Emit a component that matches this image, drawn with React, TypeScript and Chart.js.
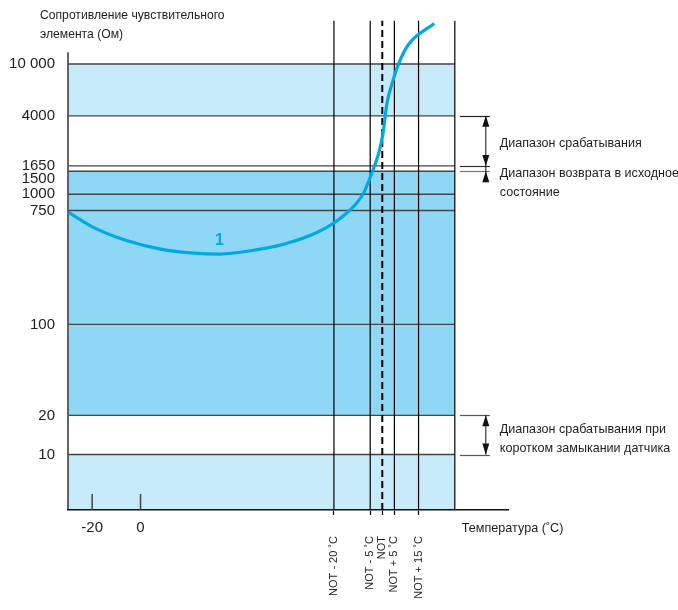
import React, { useEffect, useRef } from 'react';
import { Chart, registerables } from 'chart.js';

Chart.register(...registerables);

// ---- axis ranges ----
const X_MIN = -30;
const X_MAX = 152;
const BAND_RIGHT = 130;
const Y_MIN = 3.75;
const Y_MAX = 21600;
const Y_AXIS_TOP = 12300;

// ---- ticks ----
const Y_TICKS = [10, 20, 100, 750, 1000, 1500, 1650, 4000, 10000];
const X_NUM_TICKS = [-20, 0];
const NOT = 100;
const NOT_OFFSETS = [-20, -5, 0, 5, 15];
const NOT_LABELS = ['NOT - 20 ˚C', 'NOT - 5 ˚C', 'NOT', 'NOT + 5 ˚C', 'NOT + 15 ˚C'];
const NOT_TICKS = NOT_OFFSETS.map((o) => NOT + o);

// ---- curve 1 (temperature °C, resistance Ω) ----
const CURVE_T = [-29.6, -19.3, -5.5, 8.3, 22, 33.1, 45.5, 59.2, 73, 80.6, 85.4, 89.5, 92.3, 95.7, 98.5, 100.3, 101, 101.9, 104, 106.7, 110.9, 121.5];
const CURVE_R = [721, 554, 439, 379, 353, 347, 368, 413, 508, 612, 721, 859, 1023, 1454, 2064, 2930, 3700, 4960, 7040, 10000, 14200, 20500];
const CURVE_LABEL = '1';
const CURVE_LABEL_T = 32.6;
const CURVE_LABEL_R = 441;

// ---- bands ----
const LIGHT_BANDS = [[4000, 10000], [Y_MIN, 10]];
const MID_BANDS = [[20, 1500]];

// ---- texts ----
const TITLE_LINES = ['Сопротивление чувствительного', 'элемента (Ом)'];
const X_TITLE = 'Температура (˚C)';
const RANGE_TRIP = { top: 4000, bottom: 1650, lines: ['Диапазон срабатывания'] };
const RANGE_RESET = { top: 1650, bottom: 1500, lines: ['Диапазон возврата в исходное', 'состояние'] };
const RANGE_SHORT = { top: 20, bottom: 10, lines: ['Диапазон срабатывания при', 'коротком замыкании датчика'] };

const FONT = '"Liberation Sans", Arial, sans-serif';
const LIGHT = '#c7eaf9';
const MID = '#8ed8f6';
const BLUE = '#00a8e4';
const GRID = '#444444';
const TEXT = '#1e1e1e';

export default function App() {
  const ref = useRef<HTMLCanvasElement>(null);

  useEffect(() => {
    const canvas = ref.current;
    if (!canvas) return;

    const hline = (v: number) => [{ x: X_MIN, y: v }, { x: BAND_RIGHT, y: v }];
    const vline = (t: number, top: number = Y_MAX) => [{ x: t, y: Y_MIN }, { x: t, y: top }];

    const datasets: any[] = [];
    LIGHT_BANDS.forEach(([lo, hi]) => {
      datasets.push({ data: hline(hi), borderWidth: 0, pointRadius: 0, backgroundColor: LIGHT, fill: { value: lo }, order: 20 });
    });
    MID_BANDS.forEach(([lo, hi]) => {
      datasets.push({ data: hline(hi), borderWidth: 0, pointRadius: 0, backgroundColor: MID, fill: { value: lo }, order: 20 });
    });
    Y_TICKS.forEach((v) => {
      datasets.push({ data: hline(v), borderColor: GRID, borderWidth: 1.4, pointRadius: 0, fill: false, order: 10 });
    });
    NOT_TICKS.forEach((t, i) => {
      const dashed = NOT_OFFSETS[i] === 0;
      datasets.push({
        data: vline(t),
        borderColor: '#000',
        borderWidth: dashed ? 2 : 1.2,
        borderDash: dashed ? [7, 4] : [],
        pointRadius: 0,
        fill: false,
        order: 5,
      });
    });
    datasets.push({ data: vline(BAND_RIGHT), borderColor: '#000', borderWidth: 1.2, pointRadius: 0, fill: false, order: 5 });
    datasets.push({ data: vline(X_MIN, Y_AXIS_TOP), borderColor: '#555', borderWidth: 1.8, pointRadius: 0, fill: false, clip: false, order: 5 });
    datasets.push({
      data: CURVE_T.map((t, i) => ({ x: t, y: CURVE_R[i] })),
      borderColor: BLUE,
      borderWidth: 3.2,
      pointRadius: 0,
      fill: false,
      cubicInterpolationMode: 'monotone',
      order: 0,
    });

    const annot = {
      id: 'annot',
      afterDraw(chart: any) {
        const { ctx, chartArea } = chart;
        const x = chart.scales.x;
        const y = chart.scales.y;
        ctx.save();

        const text = (s: string, px: number, py: number, sx: number) => {
          ctx.save();
          ctx.translate(px, py);
          ctx.scale(sx, 1);
          ctx.fillText(s, 0, 0);
          ctx.restore();
        };

        // title
        ctx.fillStyle = TEXT;
        ctx.font = `13px ${FONT}`;
        ctx.textAlign = 'left';
        ctx.textBaseline = 'middle';
        TITLE_LINES.forEach((l, i) => text(l, 40, 15 + i * 19, 0.935));

        // x title
        const xr = x.getPixelForValue(BAND_RIGHT);
        text(X_TITLE, xr + 7, chartArea.bottom + 18, 0.97);

        // inner tick marks
        ctx.strokeStyle = '#444';
        ctx.lineWidth = 1.5;
        X_NUM_TICKS.forEach((t) => {
          const px = x.getPixelForValue(t);
          ctx.beginPath();
          ctx.moveTo(px, chartArea.bottom - 16);
          ctx.lineTo(px, chartArea.bottom);
          ctx.stroke();
        });

        // curve label
        ctx.fillStyle = BLUE;
        ctx.font = `bold 16px ${FONT}`;
        ctx.textAlign = 'center';
        ctx.fillText(CURVE_LABEL, x.getPixelForValue(CURVE_LABEL_T), y.getPixelForValue(CURVE_LABEL_R));

        // bracket annotations
        const x0 = xr + 5;
        const x1 = xr + 35;
        const xa = xr + 31;
        const arrow = (tipY: number, dir: number) => {
          ctx.beginPath();
          ctx.moveTo(xa, tipY);
          ctx.lineTo(xa - 3.5, tipY - dir * 11);
          ctx.lineTo(xa + 3.5, tipY - dir * 11);
          ctx.closePath();
          ctx.fill();
        };
        const hseg = (v: number, color: string) => {
          ctx.strokeStyle = color;
          ctx.lineWidth = 1.2;
          const py = Math.round(y.getPixelForValue(v)) + 0.5;
          ctx.beginPath();
          ctx.moveTo(x0, py);
          ctx.lineTo(x1, py);
          ctx.stroke();
        };
        const vseg = (a: number, b: number) => {
          ctx.strokeStyle = '#111';
          ctx.lineWidth = 1;
          ctx.beginPath();
          ctx.moveTo(xa, a);
          ctx.lineTo(xa, b);
          ctx.stroke();
        };
        hseg(RANGE_TRIP.top, '#222');
        hseg(RANGE_TRIP.bottom, '#333');
        hseg(RANGE_RESET.bottom, '#777');
        hseg(RANGE_SHORT.top, '#555');
        hseg(RANGE_SHORT.bottom, '#555');

        const yTripTop = y.getPixelForValue(RANGE_TRIP.top);
        const yTripBot = y.getPixelForValue(RANGE_TRIP.bottom);
        const yResBot = y.getPixelForValue(RANGE_RESET.bottom);
        const yShTop = y.getPixelForValue(RANGE_SHORT.top);
        const yShBot = y.getPixelForValue(RANGE_SHORT.bottom);
        ctx.fillStyle = '#111';
        vseg(yTripTop, yResBot + 11);
        arrow(yTripTop, -1);
        arrow(yTripBot, 1);
        arrow(yResBot, -1);
        vseg(yShTop, yShBot);
        arrow(yShTop, -1);
        arrow(yShBot, 1);

        ctx.fillStyle = TEXT;
        ctx.font = `13px ${FONT}`;
        ctx.textAlign = 'left';
        ctx.textBaseline = 'middle';
        const tx = xr + 45;
        text(RANGE_TRIP.lines[0], tx, (yTripTop + yTripBot) / 2 + 3, 0.965);
        RANGE_RESET.lines.forEach((l, i) => text(l, tx, yResBot + 2 + i * 19, 0.965));
        const mid = (yShTop + yShBot) / 2;
        RANGE_SHORT.lines.forEach((l, i) => text(l, tx, mid - 6 + i * 19, 0.965));

        ctx.restore();
      },
    };

    const chart = new Chart(canvas, {
      type: 'line',
      data: { datasets },
      options: {
        animation: false,
        responsive: false,
        layout: { padding: { top: 16, right: 170, left: 0, bottom: 0 } },
        plugins: {
          legend: { display: false },
          tooltip: { enabled: false },
          filler: { drawTime: 'beforeDatasetsDraw' },
        },
        scales: {
          x: {
            type: 'linear',
            position: 'bottom',
            min: X_MIN,
            max: X_MAX,
            weight: 0,
            afterBuildTicks: (s: any) => {
              s.ticks = [...X_NUM_TICKS, ...NOT_TICKS].map((v) => ({ value: v }));
            },
            afterFit: (s: any) => {
              s.height = 26;
            },
            ticks: {
              autoSkip: false,
              minRotation: 0,
              maxRotation: 0,
              padding: 4,
              color: TEXT,
              font: { family: FONT, size: 15 },
              callback: (v: any) => (X_NUM_TICKS.includes(v) ? String(v) : ''),
            },
            grid: {
              z: 1,
              drawOnChartArea: false,
              drawTicks: true,
              tickLength: 5,
              tickWidth: 1.2,
              tickColor: (c: any) => (c.tick && X_NUM_TICKS.includes(c.tick.value) ? 'rgba(0,0,0,0)' : '#000'),
            },
            border: { display: true, color: '#111', width: 1.5, z: 1 },
          },
          x2: {
            type: 'linear',
            position: 'bottom',
            min: X_MIN,
            max: X_MAX,
            weight: 1,
            afterBuildTicks: (s: any) => {
              s.ticks = NOT_TICKS.map((v) => ({ value: v }));
            },
            afterFit: (s: any) => {
              s.height = 74;
            },
            ticks: {
              autoSkip: false,
              minRotation: 90,
              maxRotation: 90,
              padding: 0,
              color: TEXT,
              font: { family: FONT, size: 11 },
              callback: (v: any) => NOT_LABELS[NOT_TICKS.indexOf(v)] ?? '',
            },
            grid: { display: false, drawTicks: false },
            border: { display: false },
          },
          y: {
            type: 'logarithmic',
            position: 'left',
            min: Y_MIN,
            max: Y_MAX,
            afterBuildTicks: (s: any) => {
              s.ticks = Y_TICKS.map((v) => ({ value: v }));
            },
            afterFit: (s: any) => {
              s.width = 68;
            },
            ticks: {
              autoSkip: false,
              padding: 13,
              color: TEXT,
              font: { family: FONT, size: 15, lineHeight: 1 },
              callback: (v: any) => (v === 1500 ? ['', '1500'] : v === 10000 ? '10 000' : String(v)),
            },
            grid: { display: false, drawTicks: false },
            border: { display: false },
          },
        },
      } as any,
      plugins: [annot],
    });

    return () => chart.destroy();
  }, []);

  return (
    <div style={{ position: 'absolute', left: 0, top: 0, width: 678, height: 610, background: '#fff' }}>
      <canvas ref={ref} width={678} height={610} />
    </div>
  );
}
